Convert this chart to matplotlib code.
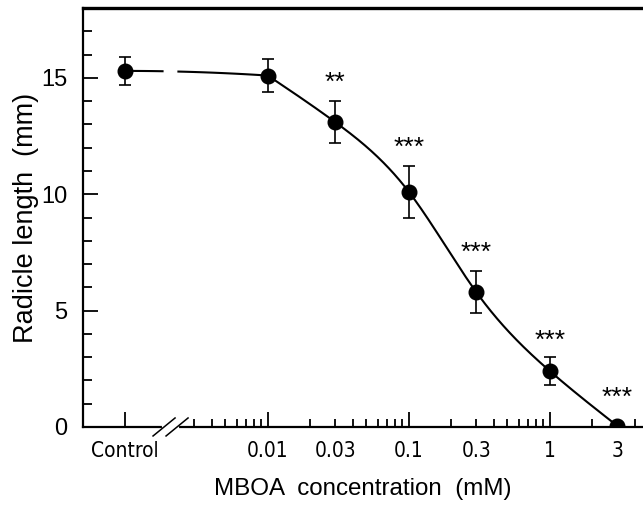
import numpy as np
import matplotlib
matplotlib.use("Agg")
import matplotlib.pyplot as plt

# radicle length vs MBOA concentration
control_pos = 0.00097   # where "Control" sits on the log axis
conc = [0.01, 0.03, 0.1, 0.3, 1, 3]
length = [15.1, 13.1, 10.1, 5.8, 2.4, 0.05]
err = [0.7, 0.9, 1.1, 0.9, 0.6, 0.0]
control_len = 15.3
control_err = 0.6
stars = ["**", "***", "***", "***", "***"]
star_conc = [0.03, 0.1, 0.3, 1, 3]
star_y = [14.8, 12.0, 7.5, 3.7, 1.25]
break_x = 0.00204


def natural_spline(xk, yk, xq):
    # natural cubic spline through the points (log-x space)
    xk = np.asarray(xk, float)
    yk = np.asarray(yk, float)
    n = len(xk)
    h = np.diff(xk)
    A = np.zeros((n, n))
    b = np.zeros(n)
    A[0, 0] = A[-1, -1] = 1
    for i in range(1, n - 1):
        A[i, i - 1] = h[i - 1]
        A[i, i] = 2 * (h[i - 1] + h[i])
        A[i, i + 1] = h[i]
        b[i] = 6 * ((yk[i + 1] - yk[i]) / h[i] - (yk[i] - yk[i - 1]) / h[i - 1])
    M = np.linalg.solve(A, b)
    out = np.empty_like(xq)
    for j, x in enumerate(xq):
        i = min(max(np.searchsorted(xk, x) - 1, 0), n - 2)
        a = xk[i + 1] - x
        c = x - xk[i]
        out[j] = (M[i] * a**3 + M[i + 1] * c**3) / (6 * h[i]) \
            + (yk[i] / h[i] - M[i] * h[i] / 6) * a + (yk[i + 1] / h[i] - M[i + 1] * h[i] / 6) * c
    return out


fig = plt.figure(figsize=(6.43, 5.05), dpi=100)
ax = fig.add_axes([0.129, 0.1545, 0.871, 0.8295])

# smooth line through the dose points, short line from control to 0.01
lx = np.log10(conc)
xs = np.linspace(lx[0], lx[-1], 400)
ys = natural_spline(lx, length, xs)
ax.plot(10 ** xs, ys, color="black", lw=1.5, zorder=2)

cx = np.linspace(np.log10(control_pos), lx[0], 100)
t = (cx - cx[0]) / (cx[-1] - cx[0])
cy = control_len + (length[0] - control_len) * t**2
cx = 10 ** cx
cy[(cx > 0.00180) & (cx < 0.00228)] = np.nan
ax.plot(cx, cy, color="black", lw=1.5, zorder=2)

ax.errorbar([control_pos] + conc, [control_len] + length, yerr=[control_err] + err, fmt="o",
            color="black", ms=10.5, elinewidth=1.2, capsize=4, capthick=1.2, zorder=3)

for s, sx, sy in zip(stars, star_conc, star_y):
    ax.text(sx, sy, s, ha="center", va="center", fontsize=19,
            family="Liberation Sans")

ax.set_xscale("log")
ax.set_xlim(0.000488, 4.57)
ax.set_ylim(0, 18)

ax.spines["right"].set_visible(False)
ax.spines["top"].set_linewidth(2.4)
ax.spines["left"].set_linewidth(1.6)
ax.spines["bottom"].set_linewidth(1.6)

major_x = [control_pos, 0.01, 0.1, 1]
major_lab = ["Control", "0.01", "0.1", "1"]
minor_x = []
minor_lab = []
for dec in [0.001, 0.01, 0.1, 1]:
    for k in range(2, 10):
        v = k * dec
        if v < 0.0025 or v > 4.5:
            continue
        minor_x.append(v)
        minor_lab.append({0.03: "0.03", 0.3: "0.3", 3: "3"}.get(round(v, 4), ""))
ax.set_xticks(major_x, major_lab)
ax.set_xticks(minor_x, minor_lab, minor=True)
for lab in ax.get_xticklabels() + ax.get_xticklabels(minor=True):
    lab.set_family("DejaVu Sans")
    lab.set_stretch("condensed")
    lab.set_fontsize(15)
ax.tick_params(axis="x", which="major", direction="in", length=11, width=1.3, pad=10)
ax.tick_params(axis="x", which="minor", direction="in", length=6, width=1.3, pad=10)

ax.set_yticks([0, 5, 10, 15])
ax.set_yticks(range(0, 18), minor=True)
ax.tick_params(axis="y", which="major", direction="in", length=11, width=1.3,
               pad=11, labelsize=17)
ax.tick_params(axis="y", which="minor", direction="in", length=6.5, width=1.3)
for lab in ax.get_yticklabels():
    lab.set_family("Liberation Sans")

# axis break marks
fig.canvas.draw()
bx, by = ax.transData.transform((break_x, 0))
inv = fig.transFigure.inverted()
gap = inv.transform([(bx - 6.5, by), (bx + 6.5, by)])
ax.plot(gap[:, 0], gap[:, 1], color="white", lw=3, transform=fig.transFigure,
        clip_on=False, zorder=5)
for off in (-6.5, 6.5):
    seg = inv.transform([(bx + off - 11, by - 9), (bx + off + 11, by + 9)])
    ax.plot(seg[:, 0], seg[:, 1], color="black", lw=1.1, transform=fig.transFigure,
            clip_on=False, zorder=6)

ax.set_ylabel("Radicle length  (mm)", fontsize=19.5, family="Liberation Sans", labelpad=2)
ax.set_xlabel("MBOA  concentration  (mM)", fontsize=17.4, family="Liberation Sans", labelpad=12)

fig.savefig("out.png", dpi=100)
